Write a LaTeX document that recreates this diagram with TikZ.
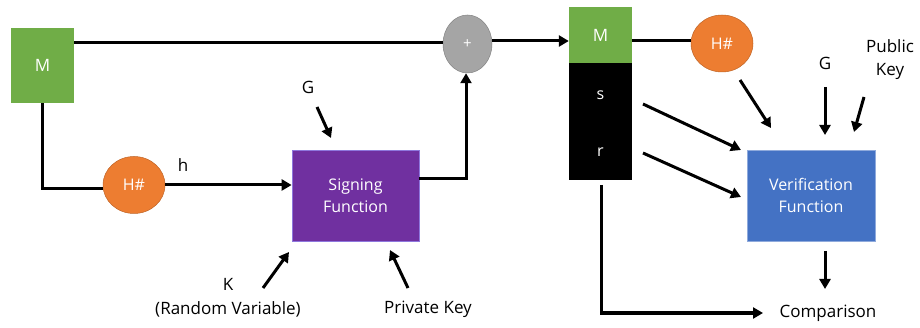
\documentclass[tikz,border=0pt]{standalone}
\usepackage{fontspec}
\setmainfont{Open Sans}
\usetikzlibrary{arrows.meta,shapes.geometric}
\definecolor{mgreen}{HTML}{70AD47}
\definecolor{morange}{HTML}{ED7D31}
\definecolor{mpurple}{HTML}{7030A0}
\definecolor{mblue}{HTML}{4472C4}
\definecolor{mgray}{HTML}{A5A5A5}
\begin{document}
\begin{tikzpicture}[x=1pt,y=-1pt,
  wire/.style={line width=3pt,draw=black},
  arr/.style={wire,-{Triangle[length=10pt,width=11pt]}},
  box/.style={rectangle,inner sep=0pt,text=white,font=\fontsize{16}{22}\selectfont,align=center},
  oval/.style={ellipse,inner sep=0pt,text=white,font=\fontsize{16}{18}\selectfont},
  lbl/.style={inner sep=0pt,font=\fontsize{17}{23}\selectfont,align=center}]
\useasboundingbox (0,0) rectangle (920,328);
% nodes
\node[box,fill=mgreen,minimum width=63pt,minimum height=75pt,font=\fontsize{17}{20}\selectfont] (m1) at (42.5,65.5) {M};
\node[oval,fill=morange,draw=morange!80!black,line width=0.5pt,minimum width=62pt,minimum height=57pt] (h1) at (134,185) {H\#};
\node[box,fill=mpurple,draw=mpurple!60!blue!60!white,line width=0.8pt,minimum width=127pt,minimum height=91pt] (sig) at (355.5,195.5) {Signing\\Function};
\node[oval,fill=mgray,draw=mgray!80!black,line width=0.5pt,minimum width=49pt,minimum height=58pt,font=\fontsize{15}{16}\selectfont] (plus) at (467.5,44) {+};
\node[box,fill=mgreen,minimum width=63pt,minimum height=56pt,font=\fontsize{17}{20}\selectfont] (m2) at (600.5,35) {M};
\node[box,fill=black,minimum width=63pt,minimum height=117pt,anchor=north] (sr) at (m2.south) {};
\node[box] (s) at (600.5,95) {s};
\node[box] (r) at (600.5,152) {r};
\node[oval,fill=morange,draw=morange!80!black,line width=0.5pt,minimum width=62pt,minimum height=57pt] (h2) at (722,43.5) {H\#};
\node[box,fill=mblue,draw=mblue!60!white,line width=0.8pt,minimum width=128pt,minimum height=91pt] (ver) at (811,195.5) {Verification\\Function};
% labels
\node[lbl] (hl) at (183,165) {h};
\node[lbl] (g1) at (308,87) {G};
\node[lbl] (k) at (228,284) {K};
\node[lbl] (rv) at (228,309) {(Random Variable)};
\node[lbl] (pk) at (428,309) {Private Key};
\node[lbl] (g2) at (825,63) {G};
\node[lbl] (pub) at (890,60) {Public\\Key};
\node[lbl] (cmp) at (828,313) {Comparison};
% free ends
\coordinate (g1s) at (317,107);
\coordinate (g1e) at (331,138);
\coordinate (ks) at (263,288);
\coordinate (ke) at (289,252);
\coordinate (pks) at (408,288);
\coordinate (pke) at (390,250);
\coordinate (h2s) at (740,80);
\coordinate (h2e) at (771,128);
\coordinate (g2s) at (825,87);
\coordinate (g2e) at (825,135);
\coordinate (pubs) at (864,97);
\coordinate (pube) at (854,132);
\coordinate (ss) at (643,104);
\coordinate (se) at (741,150);
\coordinate (rs) at (643,153);
\coordinate (re) at (741,197);
\coordinate (vs) at (825,251);
\coordinate (ve) at (825,289);
\coordinate (cs) at (601,185);
\coordinate (ce) at (763,313);
% connectors
\draw[wire] (m1.east |- 0,43) -- (plus.west |- 0,43);
\draw[wire] (m1.south) -- (42.5,189) -- (h1.west |- 0,189);
\draw[arr] (h1.east) -- (sig.west |- h1.east);
\draw[arr] (sig.east |- 0,179) -- (466,179) -- (plus.south -| 466,0);
\draw[arr] (plus.east |- 0,41) -- (m2.west |- 0,41);
\draw[wire] (m2.east |- 0,41) -- (h2.west |- 0,41);
\draw[arr] (g1s) -- (g1e);
\draw[arr] (ks) -- (ke);
\draw[arr] (pks) -- (pke);
\draw[arr] (h2s) -- (h2e);
\draw[arr] (g2s) -- (g2e);
\draw[arr] (pubs) -- (pube);
\draw[arr] (ss) -- (se);
\draw[arr] (rs) -- (re);
\draw[arr] (vs) -- (ve);
\draw[arr] (cs) |- (ce);
\end{tikzpicture}
\end{document}
